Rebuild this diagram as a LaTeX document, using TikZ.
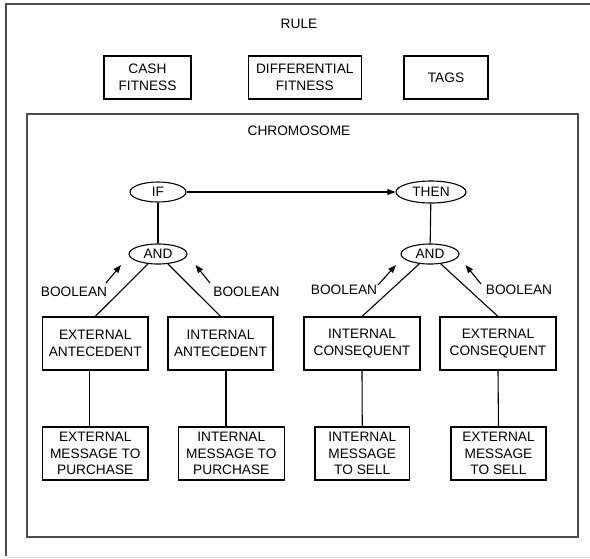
\documentclass[tikz,border=0pt]{standalone}
\usepackage{fontspec}
\setmainfont{Liberation Sans}
\usetikzlibrary{shapes.geometric,arrows.meta}
\begin{document}
\begin{tikzpicture}[x=1pt,y=-1pt,
  every node/.style={font=\fontsize{13.7}{16.7}\selectfont, text=black},
  box/.style={draw, line width=1.1pt, rectangle, align=center, inner sep=0pt, minimum height=#1},
  box/.default=53pt,
  oval/.style={draw, line width=1.1pt, ellipse, inner sep=0pt},
  conn/.style={line width=1.1pt},
  arr/.style={line width=1.1pt, -{Triangle[length=8pt,width=6pt]}},
  frame/.style={line width=1.6pt, draw=black!70}]
\useasboundingbox (0,0) rectangle (590,558);
% outer frame
\draw[frame] (592,4) -- (6,4) -- (6,556);
\draw[line width=1pt, draw=black!12] (6,557.5) -- (592,557.5);
\node (rule) at (299,24) {RULE};
\node[box=43pt, minimum width=87pt] (cash) at (147.5,77.5) {CASH\\FITNESS};
\node[box=43pt, minimum width=113pt] (diff) at (304.8,77.5) {DIFFERENTIAL\\FITNESS};
\node[box=43pt, minimum width=84pt] (tags) at (446,77.5) {TAGS};
% chromosome
\draw[frame] (27,114) rectangle (578,537);
\node (chrom) at (299,131) {CHROMOSOME};
% ellipses
\node[oval, minimum width=56pt, minimum height=20pt] (if) at (158,192) {IF};
\node[oval, minimum width=70pt, minimum height=22pt] (then) at (431,192) {THEN};
\node[oval, minimum width=58pt, minimum height=20pt] (and1) at (158,254) {AND};
\node[oval, minimum width=58pt, minimum height=20pt] (and2) at (430,254) {AND};
% antecedent / consequent boxes
\node[box, minimum width=105.5pt] (extA) at (95.25,343.5) {EXTERNAL\\ANTECEDENT};
\node[box, minimum width=105pt] (intA) at (220.5,343.5) {INTERNAL\\ANTECEDENT};
\node[box, minimum width=116pt] (intC) at (362,343.5) {INTERNAL\\CONSEQUENT};
\node[box, minimum width=116pt] (extC) at (498,343.5) {EXTERNAL\\CONSEQUENT};
% message boxes
\node[box, minimum width=105.5pt] (m1) at (95.25,453.5) {EXTERNAL\\MESSAGE TO\\PURCHASE};
\node[box, minimum width=105.5pt] (m2) at (231.3,453.5) {INTERNAL\\MESSAGE TO\\PURCHASE};
\node[box, minimum width=94.5pt] (m3) at (362.25,453.5) {INTERNAL\\MESSAGE\\TO SELL};
\node[box, minimum width=95pt] (m4) at (498.5,453.5) {EXTERNAL\\MESSAGE\\TO SELL};
% connectors
\draw[arr] (if) -- (then);
\draw[conn] (if) -- (and1);
\draw[conn] (then) -- (and2);
\draw[conn] (and1) -- (extA.north);
\draw[conn] (and1) -- (intA.north);
\draw[conn] (and2) -- (intC.north);
\draw[conn] (and2) -- (extC.north);
\draw[conn] ([xshift=-5.5pt]extA.south) -- ([xshift=-5.5pt]m1.north);
\draw[conn] ([xshift=5.5pt]intA.south) -- ([xshift=-5.3pt]m2.north);
\draw[conn] (intC.south) -- (m3.north);
\draw[conn] (extC.south) -- (m4.north);
% boolean labels and arrows
\node (bl1) at (74,292) {BOOLEAN};
\node (bl2) at (246.5,292) {BOOLEAN};
\node (bl3) at (344,290) {BOOLEAN};
\node (bl4) at (519,290) {BOOLEAN};
\coordinate (a1s) at (106,283); \coordinate (a1e) at (121,265);
\coordinate (a2s) at (210,283); \coordinate (a2e) at (195.5,265);
\coordinate (a3s) at (378,285); \coordinate (a3e) at (396,265);
\coordinate (a4s) at (481,284); \coordinate (a4e) at (465.5,265);
\draw[arr] (a1s) -- (a1e);
\draw[arr] (a2s) -- (a2e);
\draw[arr] (a3s) -- (a3e);
\draw[arr] (a4s) -- (a4e);
\end{tikzpicture}
\end{document}
